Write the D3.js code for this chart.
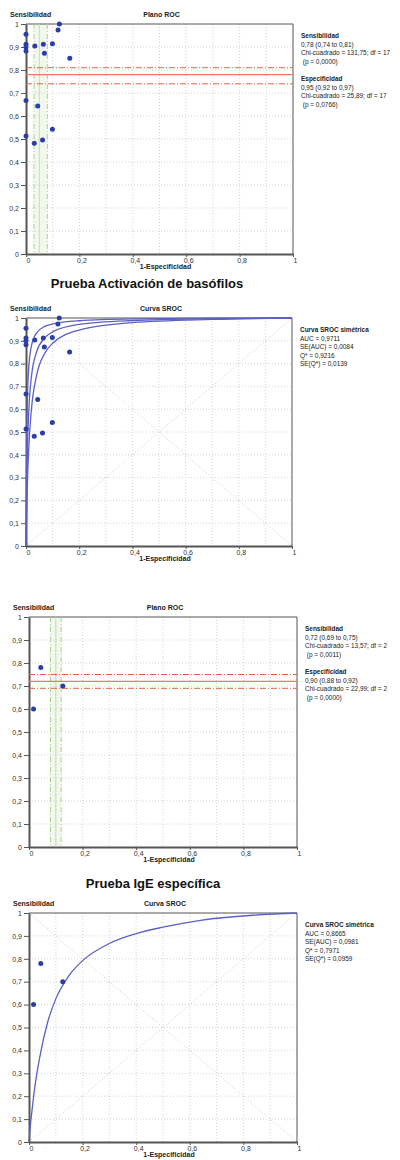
<!DOCTYPE html>
<html>
<head>
<meta charset="utf-8">
<script src="https://cdn.jsdelivr.net/npm/d3@7"></script>
<style>
  body { margin: 0; background: #fff; }
  svg { display: block; font-family: "Liberation Sans", Arial, sans-serif; }
  .tick text { font-size: 7px; fill: #333; }
  .note { font-family: "Liberation Sans", Arial, sans-serif; font-size: 7.5px; fill: #222; }
</style>
</head>
<body>
<svg id="chart" width="400" height="1160"></svg>
<script>
// ---- datos ----
const yTicks = [0, 0.1, 0.2, 0.3, 0.4, 0.5, 0.6, 0.7, 0.8, 0.9, 1];
const xTicks = [0, 0.2, 0.4, 0.6, 0.8, 1];
const gridVals = [0.1, 0.2, 0.3, 0.4, 0.5, 0.6, 0.7, 0.8, 0.9];

// estudios activación de basófilos: [1-especificidad, sensibilidad]
const basPoints = [
  [0, 0.955], [0, 0.912], [0, 0.90], [0, 0.883], [0.033, 0.904],
  [0.065, 0.912], [0.069, 0.873], [0.099, 0.914], [0.12, 0.974], [0.125, 1.0],
  [0.164, 0.851], [0, 0.667], [0.044, 0.643], [0.099, 0.542], [0, 0.513],
  [0.031, 0.481], [0.062, 0.496]
];
const basSens = [0.74, 0.78, 0.81];   // lo, est, hi
const basSpec = [0.92, 0.95, 0.97];

// estudios IgE específica
const igePoints = [[0.017, 0.60], [0.044, 0.78], [0.126, 0.70]];
const igeSens = [0.69, 0.72, 0.75];
const igeSpec = [0.88, 0.90, 0.92];

// curvas SROC
const basCurveHi = [[0, 0], [0.001, 0.256], [0.003, 0.508], [0.005, 0.633], [0.01, 0.776], [0.02, 0.875],
  [0.04, 0.935], [0.07, 0.963], [0.1, 0.974], [0.2, 0.988], [0.4, 0.996], [0.7, 0.999], [1, 1]];
const basCurveMid = [[0, 0], [0.001, 0.122], [0.003, 0.294], [0.005, 0.41], [0.01, 0.583], [0.02, 0.738],
  [0.04, 0.852], [0.07, 0.912], [0.1, 0.939], [0.2, 0.972], [0.4, 0.989], [0.7, 0.997], [1, 1]];
const basCurveLo = [[0, 0], [0.001, 0.067], [0.003, 0.177], [0.005, 0.265], [0.01, 0.42], [0.02, 0.594],
  [0.04, 0.749], [0.07, 0.844], [0.1, 0.889], [0.2, 0.947], [0.4, 0.98], [0.7, 0.994], [1, 1]];
const igeCurve = [[0, 0], [0.002, 0.03], [0.005, 0.07], [0.01, 0.125], [0.02, 0.225], [0.04, 0.37],
  [0.07, 0.525], [0.1, 0.625], [0.15, 0.728], [0.2, 0.792], [0.3, 0.867], [0.4, 0.91], [0.5, 0.938],
  [0.64, 0.968], [1, 1]];

const basRocNote = ["Sensibilidad", "0,78 (0,74 to 0,81)", "Chi-cuadrado = 131,75; df = 17", " (p = 0,0000)", "",
  "Especificidad", "0,95 (0,92 to 0,97)", "Chi-cuadrado = 25,89; df = 17", " (p = 0,0766)"];
const basSrocNote = ["Curva SROC simétrica", "AUC = 0,9711", "SE(AUC) = 0,0084", "Q* = 0,9216", "SE(Q*) = 0,0139"];
const igeRocNote = ["Sensibilidad", "0,72 (0,69 to 0,75)", "Chi-cuadrado = 13,57; df = 2", " (p = 0,0011)", "",
  "Especificidad", "0,90 (0,88 to 0,92)", "Chi-cuadrado = 22,99; df = 2", " (p = 0,0000)"];
const igeSrocNote = ["Curva SROC simétrica", "AUC = 0,8665", "SE(AUC) = 0,0981", "Q* = 0,7971", "SE(Q*) = 0,0959"];

// ---- dibujo ----
const svg = d3.select("#chart");
const fmt = d => String(d).replace(".", ",");

function makeScales(p) {
  const x = d3.scaleLinear().domain([0, 1]).range([p.left, p.right]);
  const y = d3.scaleLinear().domain([0, 1]).range([p.bottom, p.top]);
  return [x, y];
}

function drawFrame(p, x, y, title, diagonals) {
  const g = svg.append("g");

  g.selectAll(".gv").data(gridVals).enter().append("line")
    .attr("x1", d => x(d)).attr("x2", d => x(d))
    .attr("y1", p.top).attr("y2", p.bottom)
    .attr("stroke", "#d4d4d4").attr("stroke-dasharray", "1,2");
  g.selectAll(".gh").data(gridVals).enter().append("line")
    .attr("x1", p.left).attr("x2", p.right)
    .attr("y1", d => y(d)).attr("y2", d => y(d))
    .attr("stroke", "#d4d4d4").attr("stroke-dasharray", "1,2");

  if (diagonals) {
    g.append("line")
      .attr("x1", x(0)).attr("y1", y(0)).attr("x2", x(1)).attr("y2", y(1))
      .attr("stroke", "#cfcfcf").attr("stroke-dasharray", "1,2");
    g.append("line")
      .attr("x1", x(0)).attr("y1", y(1)).attr("x2", x(1)).attr("y2", y(0))
      .attr("stroke", "#cfcfcf").attr("stroke-dasharray", "1,2");
  }

  // marco superior y derecho
  g.append("path")
    .attr("d", `M${p.left},${p.top}H${p.right}V${p.bottom}`)
    .attr("fill", "none").attr("stroke", "#555").attr("stroke-width", 1);

  const ay = g.append("g")
    .attr("transform", `translate(${p.left},0)`)
    .call(d3.axisLeft(y).tickValues(yTicks).tickFormat(fmt).tickSize(5).tickSizeOuter(0));
  const ax = g.append("g")
    .attr("transform", `translate(0,${p.bottom})`)
    .call(d3.axisBottom(x).tickValues(xTicks).tickFormat(fmt).tickSize(3).tickSizeOuter(0));
  [ay, ax].forEach(a => {
    a.select(".domain").attr("stroke", "#555").attr("stroke-width", 2);
    a.selectAll(".tick line").attr("stroke", "#555");
    a.attr("font-family", null).attr("font-size", null);
  });
  ay.selectAll("text").attr("x", -7);
  ax.selectAll("text").attr("y", 4).attr("dx", 2);

  g.append("text")
    .attr("x", p.left - 16).attr("y", p.top - 7)
    .style("font-size", "7px").style("font-weight", "bold").style("fill", "#222")
    .text("Sensibilidad");
  g.append("text")
    .attr("x", (p.left + p.right) / 2 + 2).attr("y", p.top - 7)
    .attr("text-anchor", "middle")
    .style("font-size", "7px").style("font-weight", "bold").style("fill", "#222")
    .text(title);
  g.append("text")
    .attr("x", (p.left + p.right) / 2 + 6).attr("y", p.bottom + 15)
    .attr("text-anchor", "middle")
    .style("font-size", "7px").style("font-weight", "bold").style("fill", "#222")
    .text("1-Especificidad");
}

function drawNote(p, lines) {
  // texto estrecho, como en el original
  const g = svg.append("g")
    .attr("transform", `translate(${p.right + 8},${p.top + 14}) scale(0.86,1)`);
  const t = g.append("text").attr("class", "note");
  lines.forEach((line, i) => {
    t.append("tspan")
      .attr("x", 0)
      .attr("dy", i === 0 ? 0 : 8.6)
      .style("font-weight", i === 0 || lines[i - 1] === "" ? "bold" : "normal")
      .text(line === "" ? " " : line);
  });
}

function drawPoints(points, x, y) {
  svg.append("g").selectAll("circle")
    .data(points).enter().append("circle")
    .attr("cx", d => x(d[0])).attr("cy", d => y(d[1]))
    .attr("r", 2.5).attr("fill", "#2b3ea6");
}

function drawRoc(p, points, sens, spec, note) {
  const [x, y] = makeScales(p);
  // banda de especificidad
  const fLo = 1 - spec[2], fMid = 1 - spec[1], fHi = 1 - spec[0];
  svg.append("rect")
    .attr("x", x(fLo)).attr("y", p.top)
    .attr("width", x(fHi) - x(fLo)).attr("height", p.bottom - p.top)
    .attr("fill", "#f3f8ee");
  drawFrame(p, x, y, "Plano ROC", false);

  const gl = svg.append("g");
  [fLo, fHi].forEach(f => {
    gl.append("line")
      .attr("x1", x(f)).attr("x2", x(f)).attr("y1", p.top).attr("y2", p.bottom)
      .attr("stroke", "#a6d488").attr("stroke-width", 1).attr("stroke-dasharray", "5,2,1,2");
  });
  gl.append("line")
    .attr("x1", x(fMid)).attr("x2", x(fMid)).attr("y1", p.top).attr("y2", p.bottom)
    .attr("stroke", "#c4e2b0").attr("stroke-width", 1);

  [sens[0], sens[2]].forEach(s => {
    gl.append("line")
      .attr("x1", p.left).attr("x2", p.right).attr("y1", y(s)).attr("y2", y(s))
      .attr("stroke", "#e2623e").attr("stroke-width", 1).attr("stroke-dasharray", "6,2,1,2");
  });
  gl.append("line")
    .attr("x1", p.left).attr("x2", p.right).attr("y1", y(sens[1])).attr("y2", y(sens[1]))
    .attr("stroke", "#ec7a5c").attr("stroke-width", 1.2);

  drawPoints(points, x, y);
  drawNote(p, note);
}

function drawSroc(p, points, curves, note) {
  const [x, y] = makeScales(p);
  drawFrame(p, x, y, "Curva SROC", true);
  const line = d3.line().x(d => x(d[0])).y(d => y(d[1])).curve(d3.curveMonotoneX);
  curves.forEach(c => {
    svg.append("path").datum(c)
      .attr("d", line).attr("fill", "none")
      .attr("stroke", "#5b60c4").attr("stroke-width", 1.3);
  });
  drawPoints(points, x, y);
  drawNote(p, note);
}

function drawTitle(text, cx, yy) {
  svg.append("text")
    .attr("x", cx).attr("y", yy).attr("text-anchor", "middle")
    .style("font-size", "13px").style("font-weight", "bold").style("fill", "#111")
    .text(text);
}

const p1 = { left: 26, right: 293, top: 24, bottom: 254 };
const p2 = { left: 26, right: 292, top: 318, bottom: 546 };
const p3 = { left: 29, right: 297, top: 617, bottom: 847 };
const p4 = { left: 29, right: 297, top: 913, bottom: 1142 };

drawRoc(p1, basPoints, basSens, basSpec, basRocNote);
drawTitle("Prueba Activación de basófilos", 147, 288);
drawSroc(p2, basPoints, [basCurveHi, basCurveMid, basCurveLo], basSrocNote);
drawRoc(p3, igePoints, igeSens, igeSpec, igeRocNote);
drawTitle("Prueba IgE específica", 153, 888);
drawSroc(p4, igePoints, [igeCurve], igeSrocNote);
</script>
</body>
</html>
